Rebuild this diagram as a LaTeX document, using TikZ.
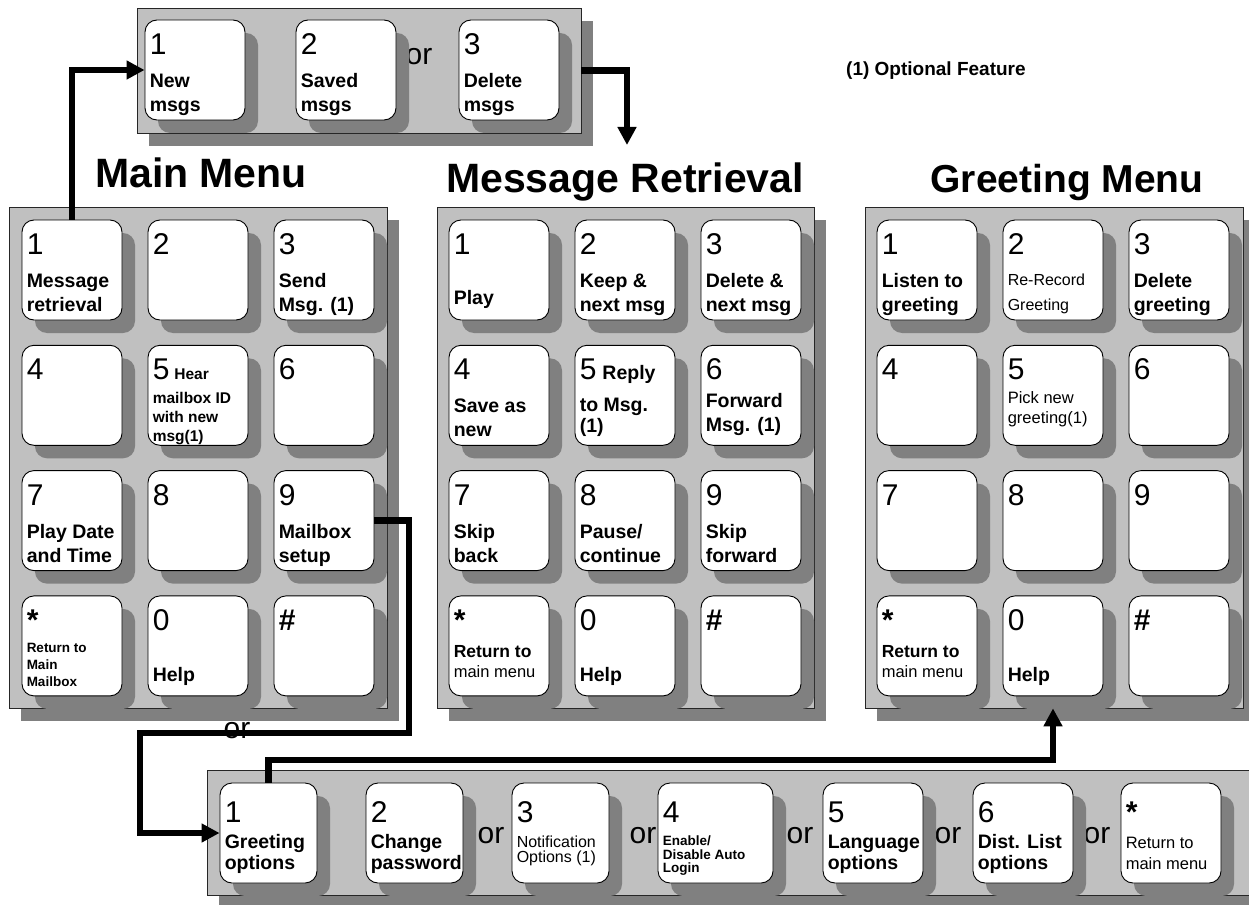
\documentclass[tikz,border=0pt]{standalone}
\usepackage{fontspec}
\setmainfont{Liberation Sans}
\usetikzlibrary{arrows.meta,shadows,positioning}
\definecolor{panelgray}{RGB}{192,192,192}
\definecolor{shadegray}{RGB}{128,128,128}
\newcommand\hearfont{\bfseries\fontsize{15.5}{18}\selectfont}
\newcommand\replyfont{\bfseries\fontsize{19.5}{24}\selectfont}
\newcommand\menufont{\mdseries\fontsize{16.5}{20}\selectfont}
\tikzset{
    panel/.style={draw=black!85, line width=0.7pt, fill=panelgray, inner sep=0pt,
        drop shadow={shadow xshift=12pt, shadow yshift=-13pt, opacity=1, fill=shadegray}},
    keybox/.style={draw=black, line width=0.9pt, fill=white, rounded corners=12pt,
        minimum width=100pt, minimum height=100pt, inner sep=0pt,
        drop shadow={shadow xshift=13pt, shadow yshift=-13pt, opacity=1, fill=shadegray}},
    keynum/.style={anchor=base west, inner sep=0pt, font=\fontsize{30}{30}\selectfont},
    keytxt/.style={anchor=base west, inner sep=0pt, align=left},
    lbl/.style={font=\bfseries\fontsize{19.5}{24}\selectfont},
    lblbt/.style={font=\bfseries\fontsize{19.5}{21}\selectfont},
    lblsm/.style={font=\bfseries\fontsize{15.5}{19}\selectfont},
    lbltn/.style={font=\bfseries\fontsize{13.5}{17}\selectfont},
    lblen/.style={font=\bfseries\fontsize{13.5}{13.5}\selectfont},
    lblret/.style={font=\bfseries\fontsize{17.5}{20}\selectfont},
    lblrr/.style={font=\fontsize{16}{25}\selectfont},
    lblpk/.style={font=\fontsize{16.5}{20}\selectfont},
    lblnt/.style={font=\fontsize{16}{15}\selectfont},
    lblmm/.style={font=\fontsize{16.5}{21}\selectfont},
    title/.style={anchor=base, inner sep=0pt, font=\bfseries\fontsize{41}{41}\selectfont},
    note/.style={anchor=base west, inner sep=0pt, font=\bfseries\fontsize{19}{19}\selectfont},
    ortext/.style={anchor=base, inner sep=0pt, font=\fontsize{30}{30}\selectfont},
    flow/.style={line width=6.5pt, -{Triangle[length=18pt,width=18pt]}}
}
\begin{document}
\begin{tikzpicture}[x=1pt, y=-1pt]
    \useasboundingbox (0,0) rectangle (1249,904);

    \node[title] (mmtitle) at (201,187) {Main Menu};
    \node[title] (mrtitle) at (625,193) {Message Retrieval};
    \node[title, font=\bfseries\fontsize{39}{39}\selectfont] (gmtitle) at (1067,193) {Greeting Menu};
    \node[note] (optnote) at (846,76) {(1) Optional Feature};

    \node[ortext] (or0) at (237,738) {or};

    \node[panel, minimum width=444pt, minimum height=125pt] (selpanel) at (359,70.5) {};
    \node[ortext] (or1) at (419,65) {or};
    \foreach \x/\d/\txt [count=\i] in {145/1/{New\\msgs}, 296/2/{Saved\\msgs}, 459/3/{Delete\\msgs}} {
        \node[keybox] (sel\i) at (\x+50,70) {};
        \node[keynum] (sel\i-d) at ([xshift=5pt,yshift=-35pt]sel\i.north west) {\d};
        \node[keytxt,lbl] (sel\i-t) at ([xshift=5pt,yshift=-92pt]sel\i.north west) {\txt};
    }

    \node[panel, minimum width=378pt, minimum height=501pt] (mmpanel) at (198,457.5) {};
    \foreach \d/\dy/\f/\txt [count=\i] in {
        1/92/lbl/{Message\\retrieval}, 2/92/lbl/{}, 3/92/lbl/{Send\\Msg. (1)},
        4/92/lbl/{}, {5\hspace{5pt}\hearfont Hear}/97/lblsm/{mailbox ID\\with new\\msg(1)}, 6/92/lbl/{},
        7/92/lbl/{Play Date\\and Time}, 8/92/lbl/{}, 9/92/lbl/{Mailbox\\setup},
        {\bfseries *}/91/lbltn/{Return to\\Main\\Mailbox}, 0/86/lbl/{Help}, {\bfseries\#}/92/lbl/{}} {
        \pgfmathsetmacro\kx{72+126*mod(\i-1,3)}
        \pgfmathsetmacro\ky{270+125.3*int((\i-1)/3)}
        \node[keybox] (mm\i) at (\kx,\ky) {};
        \node[keynum] (mm\i-d) at ([xshift=5pt,yshift=-35pt]mm\i.north west) {\d};
        \node[keytxt,\f] (mm\i-t) at ([xshift=5pt,yshift=-\dy pt]mm\i.north west) {\txt};
    }

    \node[panel, minimum width=377pt, minimum height=501pt] (mrpanel) at (625.5,457.5) {};
    \foreach \d/\dy/\f/\txt [count=\i] in {
        1/85/lbl/{Play}, 2/92/lbl/{Keep \&\\next msg}, 3/92/lbl/{Delete \&\\next msg},
        4/92/lbl/{Save as\\new}, {5\hspace{6pt}\replyfont Reply}/88/lblbt/{to Msg.\\(1)}, 6/87/lbl/{Forward\\Msg. (1)},
        7/92/lbl/{Skip\\back}, 8/92/lbl/{Pause/\\continue}, 9/92/lbl/{Skip\\forward},
        {\bfseries *}/82/lblret/{Return to\\\menufont main menu}, 0/86/lbl/{Help}, {\bfseries\#}/92/lbl/{}} {
        \pgfmathsetmacro\kx{499+126*mod(\i-1,3)}
        \pgfmathsetmacro\ky{270+125.3*int((\i-1)/3)}
        \node[keybox] (mr\i) at (\kx,\ky) {};
        \node[keynum] (mr\i-d) at ([xshift=5pt,yshift=-35pt]mr\i.north west) {\d};
        \node[keytxt,\f] (mr\i-t) at ([xshift=5pt,yshift=-\dy pt]mr\i.north west) {\txt};
    }

    \node[panel, minimum width=378pt, minimum height=501pt] (gmpanel) at (1054,457.5) {};
    \foreach \d/\dy/\f/\txt [count=\i] in {
        1/92/lbl/{Listen to\\greeting}, 2/91/lblrr/{Re-Record\\Greeting}, 3/92/lbl/{Delete\\greeting},
        4/92/lbl/{}, 5/79/lblpk/{Pick new\\greeting(1)}, 6/92/lbl/{},
        7/92/lbl/{}, 8/92/lbl/{}, 9/92/lbl/{},
        {\bfseries *}/82/lblret/{Return to\\\menufont main menu}, 0/86/lbl/{Help}, {\bfseries\#}/92/lbl/{}} {
        \pgfmathsetmacro\kx{927+126*mod(\i-1,3)}
        \pgfmathsetmacro\ky{270+125.3*int((\i-1)/3)}
        \node[keybox] (gm\i) at (\kx,\ky) {};
        \node[keynum] (gm\i-d) at ([xshift=5pt,yshift=-35pt]gm\i.north west) {\d};
        \node[keytxt,\f] (gm\i-t) at ([xshift=5pt,yshift=-\dy pt]gm\i.north west) {\txt};
    }

    \node[panel, minimum width=1093pt, minimum height=125pt] (gopanel) at (753.5,832.5) {};
    \foreach \x in {491,643,800,948,1097} {
        \node[ortext] (or\x) at (\x,843) {or};
    }
    \foreach \x/\w/\d/\dy/\f/\txt [count=\i] in {
        220/97/1/87/lblbt/{Greeting\\options}, 366/97/2/87/lblbt/{Change\\password},
        512/97/3/80/lblnt/{Notification\\Options (1)}, 658/115/4/90/lblen/{Enable/\\Disable Auto\\Login},
        823/100/5/87/lblbt/{Language\\options}, 973/100/6/87/lblbt/{Dist. List\\options},
        1121/100/{\bfseries *}/87/lblmm/{Return to\\main menu}} {
        \node[keybox, minimum width=\w pt] (go\i) at (\x+\w/2,833) {};
        \node[keynum] (go\i-d) at ([xshift=5pt,yshift=-40pt]go\i.north west) {\d};
        \node[keytxt,\f] (go\i-t) at ([xshift=5pt,yshift=-\dy pt]go\i.north west) {\txt};
    }

    \coordinate (mrtop) at (627,145);
    \coordinate (c1) at (409,733);
    \coordinate (c2) at (140,733);
    \coordinate (c3) at (1053,760);

    \draw[flow] (mm1.north) |- (sel1.west);
    \draw[flow] (selpanel.east) -| (mrtop);
    \draw[flow] (mm9.east) -| (c1) -- (c2) |- (go1.west);
    \draw[flow] (go1.north) |- (c3) -- (gm11 |- gmpanel.south);
\end{tikzpicture}
\end{document}
